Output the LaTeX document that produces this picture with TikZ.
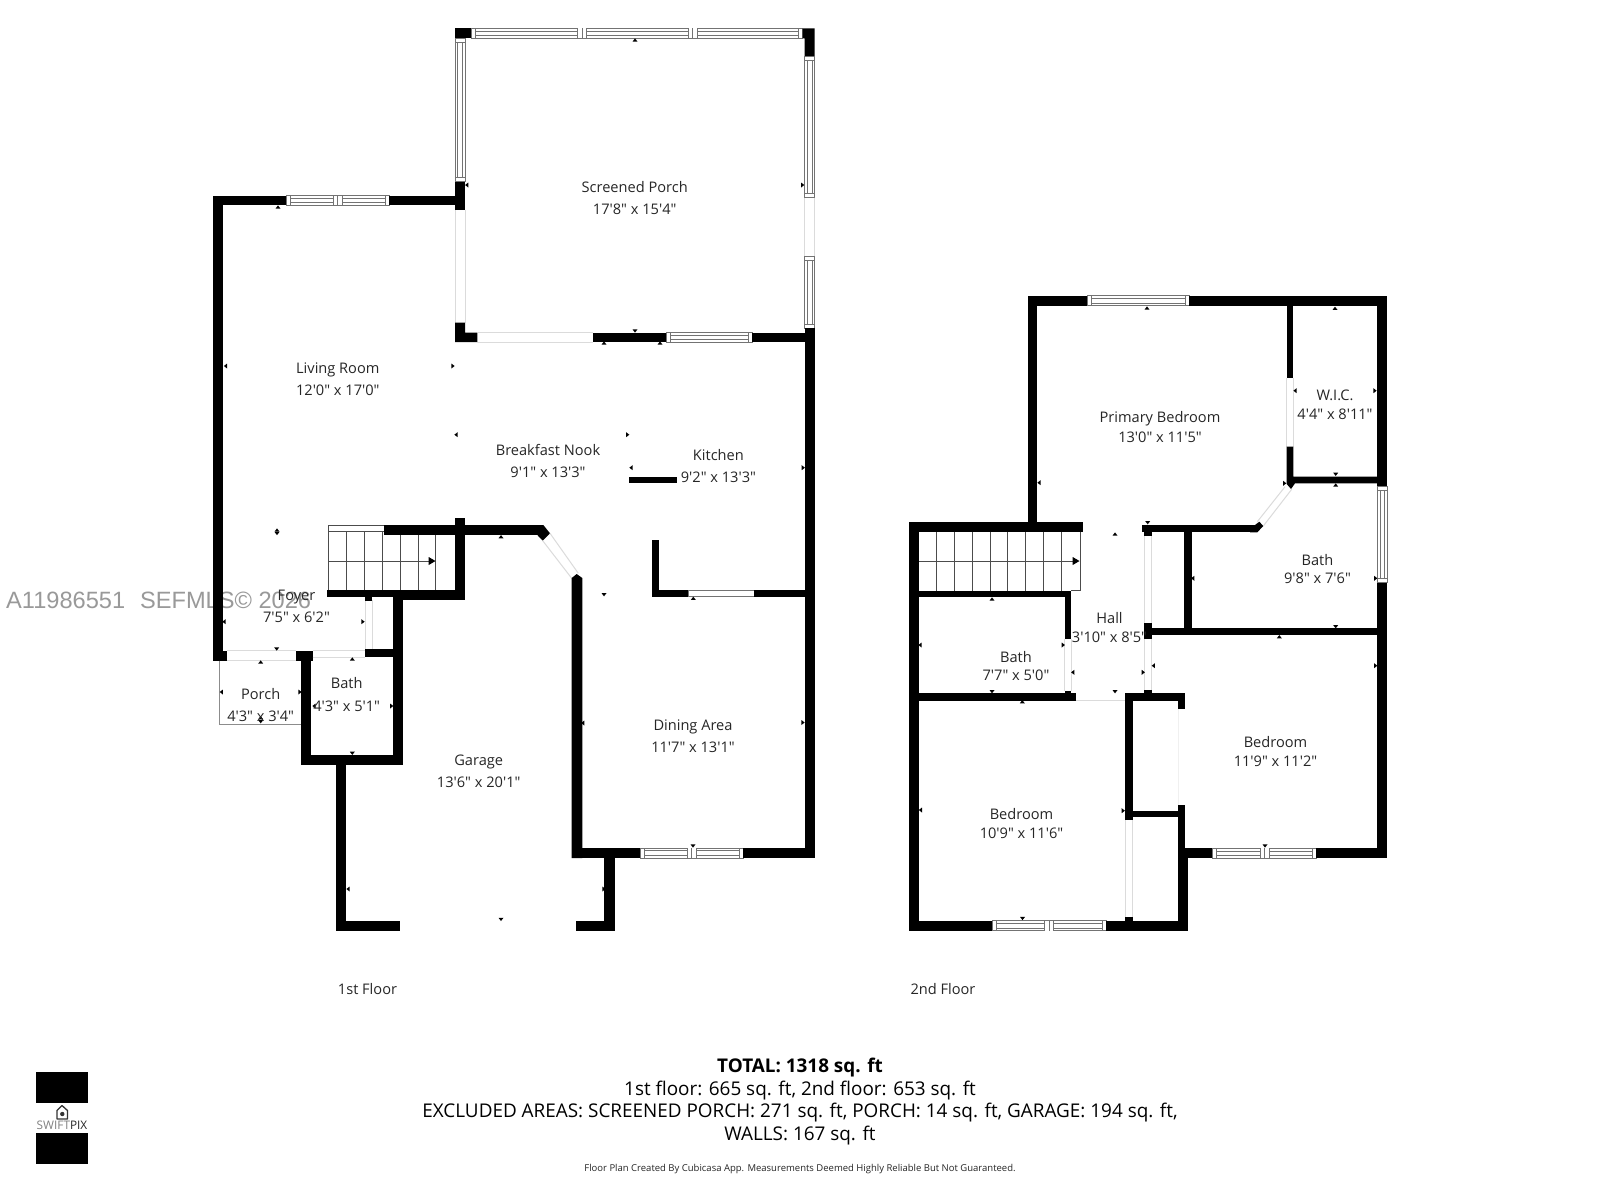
\documentclass[tikz,border=0pt]{standalone}
\usepackage{fontspec}
\newfontfamily\osf{Open Sans}
\newfontfamily\wmfont{Liberation Sans}
\tikzset{
  wall/.style={fill=black,draw=none},
  winline/.style={draw=black!55,line width=0.8pt,fill=white},
  winin/.style={draw=black!55,line width=0.8pt},
  doorline/.style={draw=black!14,line width=1pt},
  stairline/.style={draw=black!70,line width=0.8pt},
  tickmark/.style={fill=black,draw=none},
  lab/.style={font=\osf\fontsize{14.6}{16}\selectfont,text=black!85,inner sep=0pt,anchor=base,yshift=-6pt},
  foot/.style={font=\osf\fontsize{18.9}{22}\selectfont,text=black,inner sep=0pt,anchor=base,yshift=-7pt},
  wm/.style={font=\wmfont\fontsize{23.6}{26}\selectfont,text=black!40,inner sep=0pt,anchor=west},
}
\newcommand\W[4]{\fill[wall] (#1,#2) rectangle (#3,#4);}
% horizontal / vertical windows with inner rails and end caps
\newcommand\winH[4]{\pgfmathsetmacro\xa{#1+4}\pgfmathsetmacro\xb{#3-4}\pgfmathsetmacro\ya{#2+2.6}\pgfmathsetmacro\yb{#4-2.6}
  \draw[winline] (#1,#2) rectangle (#3,#4);
  \draw[winin] (\xa,#2)--(\xa,#4) (\xb,#2)--(\xb,#4) (\xa,\ya)--(\xb,\ya) (\xa,\yb)--(\xb,\yb);}
\newcommand\winV[4]{\pgfmathsetmacro\ya{#2+4}\pgfmathsetmacro\yb{#4-4}\pgfmathsetmacro\xa{#1+2.6}\pgfmathsetmacro\xb{#3-2.6}
  \draw[winline] (#1,#2) rectangle (#3,#4);
  \draw[winin] (#1,\ya)--(#3,\ya) (#1,\yb)--(#3,\yb) (\xa,\ya)--(\xa,\yb) (\xb,\ya)--(\xb,\yb);}
\newcommand\mulH[3]{\pgfmathsetmacro\xa{#1-4.5}\pgfmathsetmacro\xb{#1+4.5}
  \fill[white] (\xa,#2) rectangle (\xb,#3);
  \draw[winin] (\xa,#2)--(\xa,#3) (#1,#2)--(#1,#3) (\xb,#2)--(\xb,#3);}
\newcommand\doorH[3]{\draw[doorline] (#1,#2)--(#3,#2);}
\newcommand\tk[3]{\fill[tickmark,shift={(#1,#2)},rotate=#3] (-2.5,1.6)--(2.5,1.6)--(0,-1.6)--cycle;}
\newcommand\tU[2]{\tk{#1}{#2}{0}}
\newcommand\tD[2]{\tk{#1}{#2}{180}}
\newcommand\tL[2]{\tk{#1}{#2}{90}}
\newcommand\tR[2]{\tk{#1}{#2}{-90}}
\newcommand\room[7]{\node[lab] (#1a) at (#2,#3) {#4}; \node[lab] (#1b) at (#2,#5) {#6#7};}
\begin{document}
\begin{tikzpicture}[x=1pt,y=-1pt]
\useasboundingbox[fill=white] (0,0) rectangle (1600,1200);
% watermark
\node[wm] (watermark) at (6,600) {A11986551\hspace{15pt}SEFMLS© 2026};

% ---------- 1st floor ---------
% screened porch
\W{454.7}{28.3}{471.7}{38.3}
\winH{471.7}{28.3}{802.7}{38.3}
\mulH{582}{28.3}{38.3}\mulH{692.5}{28.3}{38.3}
\fill[wall] (802.7,28.3)--(814.7,28.3)--(814.7,56.7)--(804.7,56.7)--(804.7,38.3)--(802.7,38.3)--cycle;
\winV{804.7}{56.7}{814.7}{197.7}
\draw[doorline] (804.7,197.7)--(804.7,256.7) (814.7,197.7)--(814.7,256.7);
\winV{804.7}{256.7}{814.7}{328}
\winV{455}{38.3}{465}{181.7}
\W{455}{181.7}{465}{210}
\draw[doorline] (455,210)--(455,322.7) (465,210)--(465,322.7);
\fill[wall] (455,322.7)--(465,322.7)--(465,332.7)--(477.3,332.7)--(477.3,342)--(455,342)--cycle;
\draw[doorline] (477.3,332.7)--(593.3,332.7) (477.3,342)--(593.3,342);
\W{593.3}{332.7}{666.7}{342}
\winH{666.7}{332.7}{752.3}{342}
\W{752.3}{332.7}{805}{342}
\W{804.7}{328}{814.7}{858}
% living room
\W{213.3}{195.5}{223.3}{660.7}
\W{213.3}{195.5}{286}{205}
\winH{286}{195.5}{389}{205}
\mulH{337.5}{195.5}{205}
\W{389}{195.5}{455}{205}
\W{213.3}{650.7}{227.3}{660.7}
\draw[doorline] (227.3,650.7)--(296,650.7) (227.3,660.7)--(296,660.7);
\W{296}{650.7}{312.7}{660.7}
\draw[doorline] (312.7,650.7)--(365,650.7) (312.7,657)--(365,657);
\W{301.3}{650.7}{311.3}{765}
\W{301.3}{755}{402.7}{765}
\W{392.7}{590}{402.7}{765}
\W{365}{649}{392.7}{657}
\draw[doorline] (365,600)--(365,649) (372.3,600)--(372.3,649);
\W{365}{597}{372.3}{601}
\W{327.3}{590}{465}{597}
\W{392.7}{597}{465}{600}
\W{455}{517.7}{465}{600}
% stairs 1st floor
\draw[stairline] (328.3,525) rectangle (384,531.7);
\W{384}{525}{543}{535}
\draw[stairline] (328.3,531.7)--(328.3,590)
 (346.3,531.7)--(346.3,590) (364.3,531.7)--(364.3,590) (382,531.7)--(382,590)
 (400,535)--(400,590) (418,535)--(418,590) (435.7,535)--(435.7,590)
 (328.3,561)--(430,561);
\fill[tickmark] (428.7,557)--(435.5,561)--(428.7,565)--cycle;
% diagonal door
\fill[wall] (537,525)--(543.3,525)--(550,533.3)--(542.7,540.7)--(537.3,535)--cycle;
\draw[doorline] (542.7,540.7)--(571.7,578.3) (550,533.3)--(578.3,573.3);
\fill[wall] (571.7,578)--(576.7,574)--(582.3,578)--(582.3,858)--(571.7,858)--cycle;
\W{571.7}{848}{640}{858}
\winH{640}{848}{743}{858}
\mulH{691.5}{848}{858}
\W{743}{848}{814.7}{858}
\W{604}{858}{615}{931}
\W{575.5}{921}{615}{931}
\W{336}{765}{346}{931}
\W{336}{921}{400}{931}
% porch outline
\draw[draw=black!45,line width=1pt] (219.3,660.7)--(219.3,724)--(301.3,724);
% kitchen
\W{629.3}{476.7}{677.3}{483.3}
\W{652}{540}{659}{596.7}
\W{652}{590}{688.7}{596.7}
\draw[draw=black!55,line width=0.8pt,fill=white] (688.7,590) rectangle (754,596.7);
\W{754}{590}{805}{596.7}

% ---------- 2nd floor ---------
\W{909}{522.3}{919}{930.7}
\W{909}{522.3}{1083.3}{532.3}
\W{1027.7}{296}{1037.3}{522.3}
\W{1027.7}{295.7}{1087}{305.7}
\winH{1087}{295.7}{1189.3}{305.7}
\W{1189.3}{295.7}{1387.3}{305.7}
\W{1377.3}{295.7}{1387.3}{486}
\winV{1377.3}{486}{1387.3}{582.7}
\W{1377.3}{582.7}{1387.3}{858.3}
% stairs 2nd floor
\draw[stairline] (919,561)--(1075,561)
 (936.3,532.3)--(936.3,590.7) (954,532.3)--(954,590.7) (972,532.3)--(972,590.7)
 (990,532.3)--(990,590.7) (1007.7,532.3)--(1007.7,590.7) (1025.7,532.3)--(1025.7,590.7)
 (1043.7,532.3)--(1043.7,590.7) (1061.7,532.3)--(1061.7,590.7)
 (1080,532.3)--(1080,590.7)--(1071.3,590.7);
\fill[tickmark] (1072.7,557)--(1079.5,561)--(1072.7,565)--cycle;
\W{919}{590.7}{1071.3}{597.3}
\W{1064.7}{590.7}{1071.3}{639}
\draw[doorline] (1064.7,639)--(1064.7,691.3) (1071.3,639)--(1071.3,691.3);
\W{1064.7}{691.3}{1071.3}{693.3}
\W{919}{693.3}{1076}{700.7}
\doorH{1076}{700}{1125}
\W{1125}{693.3}{1185}{700.7}
\W{1178.3}{693.3}{1185}{709.3}
\W{1125.3}{693.3}{1132.7}{820}
\W{1132}{810.7}{1178.3}{817.3}
\W{1178.3}{805}{1185}{860}
\W{1178.3}{848}{1188}{930.7}
\W{1188}{848.3}{1212.7}{858.3}
\winH{1212.7}{848.3}{1316}{858.3}
\mulH{1264.5}{848.3}{858.3}
\W{1316}{848.3}{1387.3}{858.3}
\W{909}{920.7}{992}{930.7}
\winH{992}{920.7}{1106}{930.7}
\mulH{1049}{920.7}{930.7}
\W{1106}{920.7}{1188}{930.7}
\W{1125.3}{917}{1132.7}{921}
\draw[doorline] (1125.3,820)--(1125.3,917) (1132.7,820)--(1132.7,917);
\draw[draw=black!6,line width=0.8pt] (1178.3,709.3)--(1178.3,805);
% hall right
\W{1141.7}{525}{1256.7}{532.3}
\fill[wall] (1255,525)--(1259.3,521.7)--(1263.3,526)--(1257.3,532.3)--(1250,532.3)--cycle;
\W{1144.3}{532}{1151.7}{536}
\draw[doorline] (1144.3,536)--(1144.3,623.3) (1151.7,536)--(1151.7,623.3);
\W{1144.3}{623.3}{1151.7}{638.7}
\draw[doorline] (1144.3,638.7)--(1144.3,690) (1151.7,638.7)--(1151.7,690);
\W{1144.3}{690}{1151.7}{694}
\W{1184.3}{532}{1191.7}{628}
\W{1151}{627.7}{1377.3}{635}
\draw[doorline] (1257.3,521.7)--(1285,486.7) (1263.3,526)--(1291.7,489.3);
\W{1286.7}{296}{1293.3}{378.3}
\draw[doorline] (1286.7,378.3)--(1286.7,446.7) (1293.3,378.3)--(1293.3,446.7);
\fill[wall] (1286.7,446.7)--(1293.3,446.7)--(1293.3,476.7)--(1377.3,476.7)--(1377.3,483.3)--(1295,483.3)--(1291,489)--(1286.7,484)--cycle;

% ---------- dimension ticks ---------
\tU{635}{40}\tL{466.7}{185}\tR{802.7}{185}\tD{635}{331}\tU{604}{343}\tU{660}{343}
\tU{278}{207}\tL{225.5}{366}\tR{453}{366}\tU{277}{530}\tD{277}{533.5}
\tL{456}{434.7}\tR{627.7}{434.7}\tD{604}{594.7}
\tL{631}{467.7}\tR{803.3}{467.7}\tU{693.3}{598.3}
\tL{582.7}{723}\tR{803}{722.5}\tD{693}{846}
\tL{224}{621.7}\tR{363}{621.7}\tD{276.7}{649}
\tU{260.7}{662}\tL{221.3}{692}\tR{300}{692}\tD{260.7}{721.7}\tU{260.7}{717.7}
\tU{352.3}{659}\tL{314}{706}\tR{391.7}{706}\tD{352.3}{753.3}
\tU{501}{536.7}\tL{348}{889}\tR{604}{889}\tD{501}{919.4}
\tU{1147}{308}\tL{1039}{482.7}\tR{1284.7}{483.3}\tD{1147.7}{522.7}
\tU{1335}{308.3}\tL{1295}{390.7}\tR{1375}{390.7}\tD{1335.7}{474.3}
\tU{1335.7}{485}\tL{1192.7}{578.3}\tR{1375.7}{578.3}\tD{1335.7}{626.7}
\tU{1279.3}{636.7}\tL{1153.3}{665.7}\tR{1375.7}{665.7}\tD{1265}{846}
\tU{1115}{534}\tL{1072.7}{672.3}\tR{1143.3}{672.3}\tD{1115}{691.7}
\tU{992}{599}\tL{920}{645}\tR{1063.3}{645}\tD{992}{691.7}
\tU{1022.3}{701.7}\tL{920.4}{810}\tR{1123.3}{810.7}\tD{1022.5}{918.5}

% ---------- labels ---------
\room{porchS}{634.7}{186}{Screened Porch}{208}{17'8" x 15'4"}{}
\room{living}{337.8}{367.5}{Living Room}{389}{12'0" x 17'0"}{}
\room{nook}{548}{449}{Breakfast Nook}{471.5}{9'1" x 13'3"}{}
\room{kitchen}{718.4}{454}{Kitchen}{476.5}{9'2" x 13'3"}{}
\room{foyer}{296.5}{594}{Foyer}{616}{7'5" x 6'2"}{}
\room{porch}{260.7}{693}{Porch}{715}{4'3" x 3'4"}{}
\room{bathA}{346.7}{682}{Bath}{705}{4'3" x 5'1"}{}
\room{garage}{478.7}{759.5}{Garage}{781}{13'6" x 20'1"}{}
\room{dining}{693}{724.5}{Dining Area}{746}{11'7" x 13'1"}{}
\room{primary}{1160}{416.5}{Primary Bedroom}{436}{13'0" x 11'5"}{}
\room{wic}{1335}{394}{W.I.C.}{413}{4'4" x 8'11"}{}
\room{bathB}{1317.5}{559}{Bath}{577.5}{9'8" x 7'6"}{}
\room{hall}{1109.5}{617.5}{Hall}{636}{3'10" x 8'5"}{}
\room{bathC}{1016}{656}{Bath}{674.5}{7'7" x 5'0"}{}
\room{bedA}{1275.5}{741}{Bedroom}{760}{11'9" x 11'2"}{}
\room{bedB}{1021.5}{813}{Bedroom}{832.5}{10'9" x 11'6"}{}
\node[lab] (floorA) at (367.5,988.6) {1st Floor};
\node[lab] (floorB) at (943,988.6) {2nd Floor};

% ---------- footer ---------
\node[foot,font=\osf\fontsize{18.9}{22}\selectfont\bfseries] (total) at (800,1065.3) {TOTAL: 1318 sq. ft};
\node[foot] (floors) at (800,1088) {1st floor: 665 sq. ft, 2nd floor: 653 sq. ft};
\node[foot] (excl) at (800,1110.3) {EXCLUDED AREAS: SCREENED PORCH: 271 sq. ft, PORCH: 14 sq. ft, GARAGE: 194 sq. ft,};
\node[foot] (walls) at (800,1133.7) {WALLS: 167 sq. ft};
\node[inner sep=0pt,font=\osf\fontsize{9.5}{11}\selectfont,text=black!85] (credit) at (800,1169) {Floor Plan Created By Cubicasa App. Measurements Deemed Highly Reliable But Not Guaranteed.};

% ---------- logo ---------
\W{36}{1072}{88}{1103.3}
\W{36}{1132.7}{88}{1164.3}
\draw[black!80,line width=1.3pt,line join=round] (57,1119)--(57,1110.5)--(62,1105.5)--(67.5,1110.5)--(67.5,1119)--cycle;
\fill[black!80] (62.3,1114) circle (2.2);
\node[inner sep=0pt,font=\osf\fontsize{11.8}{13}\selectfont,text=black!50] (logo) at (62,1125.7) {SWIFT\textcolor{black!85}{PIX}};
\end{tikzpicture}
\end{document}
